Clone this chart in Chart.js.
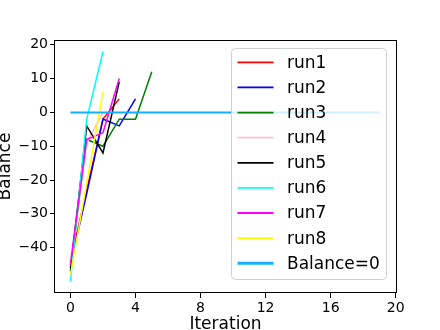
<!DOCTYPE html>
<html>
<head>
<meta charset="utf-8">
<script src="https://cdn.jsdelivr.net/npm/chart.js@4"></script>
<style>
  html, body { margin: 0; padding: 0; background: #ffffff; }
  #wrap { width: 440px; height: 330px; }
</style>
</head>
<body>
<div id="wrap"><canvas id="c" width="440" height="330"></canvas></div>
<script>
// ---- data ----
const runNames = ['run1', 'run2', 'run3', 'run4', 'run5', 'run6', 'run7', 'run8'];
const runColors = ['#ff0000', '#0000ff', '#008000', '#ffc0cb', '#000000', '#00ffff', '#ff00ff', '#ffff00'];
const run1 = [-44, -23, -2, 4];
const run2 = [-45, -24, -2, -4, 4];
const run3 = [-46, -8, -10, -2, -2, 12];
const run4 = [-44, -9, 0];
const run5 = [-47, -4, -12, 9];
const run6 = [-50, -2, 18];
const run7 = [-45, -8, -6, 10];
const run8 = [-48, -21, 6];
const balanceX = [0, 19];
const balanceY = [0, 0];
const balanceLabel = 'Balance=0';
const balanceColor = '#14b0ff';
const xTicks = [0, 4, 8, 12, 16, 20];
const yTicks = [-40, -30, -20, -10, 0, 10, 20];
const xTitle = 'Iteration';
const yTitle = 'Balance';

const runs = [run1, run2, run3, run4, run5, run6, run7, run8];
const FONT = "'DejaVu Sans', 'Liberation Sans', sans-serif";

const datasets = runs.map((vals, i) => ({
  label: runNames[i],
  data: vals.map((v, k) => ({ x: k, y: v })),
  borderColor: runColors[i],
  backgroundColor: runColors[i],
  borderWidth: 1.5,
  pointRadius: 0,
  tension: 0,
  fill: false,
  order: -i
}));
datasets.push({
  label: balanceLabel,
  data: balanceX.map((x, k) => ({ x: x, y: balanceY[k] })),
  borderColor: balanceColor,
  backgroundColor: balanceColor,
  borderWidth: 2,
  pointRadius: 0,
  tension: 0,
  fill: false,
  order: -runs.length
});

const fmt = v => (v < 0 ? '\u2212' + Math.abs(v) : String(v));

const framePlugin = {
  id: 'frame',
  afterDatasetsDraw(chart) {
    const a = chart.chartArea, ctx = chart.ctx;
    ctx.save();
    ctx.strokeStyle = '#000000';
    ctx.lineWidth = 1;
    ctx.strokeRect(Math.round(a.left) - 0.5, Math.round(a.top) + 0.5,
                   Math.round(a.right - a.left) + 1, Math.round(a.bottom - a.top) - 1);
    ctx.restore();
  }
};

const legendPlugin = {
  id: 'mplLegend',
  afterDraw(chart) {
    const ctx = chart.ctx;
    const x0 = 231.5, y0 = 48.5, w = 155, h = 231, r = 4;
    ctx.save();
    ctx.beginPath();
    ctx.moveTo(x0 + r, y0);
    ctx.lineTo(x0 + w - r, y0);
    ctx.arcTo(x0 + w, y0, x0 + w, y0 + r, r);
    ctx.lineTo(x0 + w, y0 + h - r);
    ctx.arcTo(x0 + w, y0 + h, x0 + w - r, y0 + h, r);
    ctx.lineTo(x0 + r, y0 + h);
    ctx.arcTo(x0, y0 + h, x0, y0 + h - r, r);
    ctx.lineTo(x0, y0 + r);
    ctx.arcTo(x0, y0, x0 + r, y0, r);
    ctx.closePath();
    ctx.fillStyle = 'rgba(255,255,255,0.8)';
    ctx.fill();
    ctx.strokeStyle = '#d0d0d0';
    ctx.lineWidth = 1;
    ctx.stroke();
    ctx.font = '17px ' + FONT;
    ctx.textBaseline = 'middle';
    ctx.textAlign = 'left';
    chart.data.datasets.forEach((ds, i) => {
      const cy = 62.3 + i * 25.12;
      ctx.beginPath();
      ctx.strokeStyle = ds.borderColor;
      ctx.lineWidth = ds.borderWidth + (i === runs.length ? 1 : 0.3);
      ctx.moveTo(237.5, cy);
      ctx.lineTo(273.5, cy);
      ctx.stroke();
      ctx.fillStyle = '#000000';
      ctx.fillText(ds.label, 287, cy + 1);
    });
    ctx.restore();
  }
};

new Chart(document.getElementById('c'), {
  type: 'line',
  data: { datasets: datasets },
  plugins: [framePlugin, legendPlugin],
  options: {
    responsive: false,
    animation: false,
    devicePixelRatio: 1,
    layout: { padding: { top: 40, right: 44, left: 0, bottom: 0 } },
    plugins: { legend: { display: false }, tooltip: { enabled: false } },
    scales: {
      x: {
        type: 'linear',
        min: -0.95,
        max: 20.02,
        afterFit(scale) { scale.height = 37; },
        afterBuildTicks(scale) { scale.ticks = xTicks.map(v => ({ value: v })); },
        grid: { display: true, drawOnChartArea: false, drawTicks: true, tickLength: 5, tickColor: '#000000', color: '#000000' },
        border: { display: false },
        ticks: {
          color: '#000000', padding: 2, maxRotation: 0, autoSkip: false,
          font: { family: FONT, size: 14 },
          callback: v => fmt(v)
        },
        title: {
          display: true, text: xTitle, color: '#000000',
          font: { family: FONT, size: 17, lineHeight: 1 },
          padding: { top: 0, bottom: -3 }
        }
      },
      y: {
        type: 'linear',
        min: -53.4,
        max: 21.4,
        afterFit(scale) { scale.width = 55; },
        afterBuildTicks(scale) { scale.ticks = yTicks.map(v => ({ value: v })); },
        grid: { display: true, drawOnChartArea: false, drawTicks: true, tickLength: 5, tickColor: '#000000', color: '#000000' },
        border: { display: false },
        ticks: {
          color: '#000000', padding: 2, autoSkip: false,
          font: { family: FONT, size: 14 },
          callback: v => fmt(v)
        },
        title: {
          display: true, text: yTitle, color: '#000000',
          font: { family: FONT, size: 17, lineHeight: 1 },
          padding: { top: -3, bottom: 0 }
        }
      }
    }
  }
});
</script>
</body>
</html>
